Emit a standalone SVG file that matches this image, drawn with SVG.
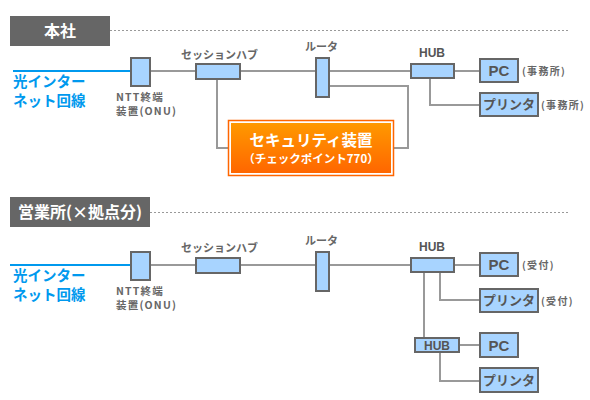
<svg xmlns="http://www.w3.org/2000/svg" width="590" height="400" viewBox="0 0 590 400">
<defs>
<linearGradient id="og" x1="0" y1="0" x2="0" y2="1">
<stop offset="0" stop-color="#ff9900"/>
<stop offset="1" stop-color="#ff6600"/>
</linearGradient>
<style>
.hdr{fill:#666666}
.hdrt{fill:#ffffff;font-family:"Noto Sans CJK JP",sans-serif;font-weight:bold;font-size:16px}
.dot{stroke:#999999;stroke-width:1;stroke-dasharray:2 2;fill:none}
.net{stroke:#0099ee;stroke-width:2;fill:none}
.nett{fill:#0099ee;font-family:"Noto Sans CJK JP",sans-serif;font-weight:bold;font-size:14.5px}
.ln{stroke:#999999;stroke-width:2;fill:none}
.box{fill:#a8d4ff;stroke:#666666;stroke-width:2}
.lbl{fill:#666666;font-family:"Noto Sans CJK JP",sans-serif;font-weight:bold;font-size:11px}
.onu{fill:#666666;font-family:"Noto Sans CJK JP",sans-serif;font-weight:bold;font-size:10.5px;letter-spacing:1.2px}
.in{fill:#555555;font-family:"Noto Sans CJK JP",sans-serif;font-weight:bold;font-size:13px;text-anchor:middle}
.pc{fill:#555555;font-family:"Liberation Sans",sans-serif;font-weight:bold;font-size:15px;text-anchor:middle}
.hub{fill:#555555;font-family:"Liberation Sans",sans-serif;font-weight:bold;font-size:12px;text-anchor:middle}
.sm{fill:#666666;font-family:"Noto Sans CJK JP",sans-serif;font-weight:bold;font-size:10px;letter-spacing:1.3px}
.sec{fill:#ffffff;font-family:"Noto Sans CJK JP",sans-serif;font-weight:bold;text-anchor:middle}
</style>
</defs>

<!-- Headers -->
<g id="header-honsha">
<rect class="hdr" x="10" y="16" width="100" height="30"/>
<text class="hdrt" x="60" y="37" text-anchor="middle">本社</text>
<line class="dot" x1="110" y1="30.5" x2="570" y2="30.5"/>
</g>
<g id="header-eigyo">
<rect class="hdr" x="10" y="197" width="140" height="30"/>
<text class="hdrt" x="80" y="218" text-anchor="middle">営業所(×拠点分)</text>
<line class="dot" x1="150" y1="212.5" x2="570" y2="212.5"/>
</g>

<!-- Connectors -->
<g id="connectors">
<line class="net" x1="13" y1="71" x2="131" y2="71"/>
<line class="ln" x1="151" y1="71" x2="195" y2="71"/>
<line class="ln" x1="241" y1="71" x2="315" y2="71"/>
<line class="ln" x1="330" y1="71" x2="410" y2="71"/>
<line class="ln" x1="455" y1="71" x2="479" y2="71"/>
<polyline class="ln" points="430,78 430,105 479,105"/>
<polyline class="ln" points="217,79 217,148 228,148"/>
<polyline class="ln" points="330,86 408,86 408,148 394,148"/>

<line class="net" x1="10" y1="265" x2="131" y2="265"/>
<line class="ln" x1="151" y1="265" x2="195" y2="265"/>
<line class="ln" x1="241" y1="265" x2="315" y2="265"/>
<line class="ln" x1="330" y1="265" x2="410" y2="265"/>
<line class="ln" x1="455" y1="265" x2="479" y2="265"/>
<polyline class="ln" points="440,273 440,300 479,300"/>
<line class="ln" x1="424" y1="273" x2="424" y2="338"/>
<line class="ln" x1="460" y1="345" x2="479" y2="345"/>
<polyline class="ln" points="440,353 440,381 479,381"/>
</g>

<!-- Top section nodes -->
<g id="net-top">
<text class="nett" x="13" y="87">光インター</text>
<text class="nett" x="13" y="106">ネット回線</text>
</g>
<g id="onu-top">
<rect class="box" x="131" y="58" width="19" height="28"/>
<text class="onu" x="116" y="101">NTT終端</text>
<text class="onu" x="116" y="115">装置(ONU)</text>
</g>
<g id="sessionhub-top">
<rect class="box" x="196" y="64" width="44" height="15"/>
<text class="lbl" x="181" y="59">セッションハブ</text>
</g>
<g id="router-top">
<rect class="box" x="316" y="58" width="13" height="39"/>
<text class="lbl" x="305" y="51">ルータ</text>
</g>
<g id="hub-top">
<rect class="box" x="411" y="64" width="43" height="14"/>
<text class="hub" x="432" y="57">HUB</text>
</g>
<g id="pc-top">
<rect class="box" x="480" y="59" width="38" height="23"/>
<text class="pc" x="499" y="76">PC</text>
<text class="sm" x="522" y="75">(事務所)</text>
</g>
<g id="printer-top">
<rect class="box" x="480" y="93" width="58" height="23"/>
<text class="in" x="509" y="109">プリンタ</text>
<text class="sm" x="541" y="109">(事務所)</text>
</g>
<g id="security">
<rect x="228.5" y="120.5" width="165" height="55" fill="#ffffff" stroke="#ff6600" stroke-width="1.5"/>
<rect x="231" y="123" width="160" height="50" fill="url(#og)"/>
<text class="sec" x="311" y="146" font-size="15.5px">セキュリティ装置</text>
<text class="sec" x="311" y="163" font-size="11.5px">（チェックポイント770）</text>
</g>

<!-- Bottom section nodes -->
<g id="net-bottom">
<text class="nett" x="13" y="281">光インター</text>
<text class="nett" x="13" y="300">ネット回線</text>
</g>
<g id="onu-bottom">
<rect class="box" x="131" y="252" width="19" height="28"/>
<text class="onu" x="116" y="295">NTT終端</text>
<text class="onu" x="116" y="309">装置(ONU)</text>
</g>
<g id="sessionhub-bottom">
<rect class="box" x="196" y="258" width="44" height="15"/>
<text class="lbl" x="181" y="252">セッションハブ</text>
</g>
<g id="router-bottom">
<rect class="box" x="316" y="252" width="13" height="39"/>
<text class="lbl" x="305" y="245">ルータ</text>
</g>
<g id="hub-bottom">
<rect class="box" x="411" y="258" width="43" height="14"/>
<text class="hub" x="432" y="251">HUB</text>
</g>
<g id="pc-bottom">
<rect class="box" x="480" y="253" width="38" height="23"/>
<text class="pc" x="499" y="270">PC</text>
<text class="sm" x="522" y="269">(受付)</text>
</g>
<g id="printer-bottom">
<rect class="box" x="480" y="289" width="58" height="23"/>
<text class="in" x="509" y="305">プリンタ</text>
<text class="sm" x="541" y="305">(受付)</text>
</g>
<g id="hub2-bottom">
<rect class="box" x="415" y="338" width="44" height="14"/>
<text class="hub" x="437" y="350">HUB</text>
</g>
<g id="pc2-bottom">
<rect class="box" x="480" y="333" width="38" height="24"/>
<text class="pc" x="499" y="351">PC</text>
</g>
<g id="printer2-bottom">
<rect class="box" x="480" y="368" width="58" height="24"/>
<text class="in" x="509" y="385">プリンタ</text>
</g>
</svg>
